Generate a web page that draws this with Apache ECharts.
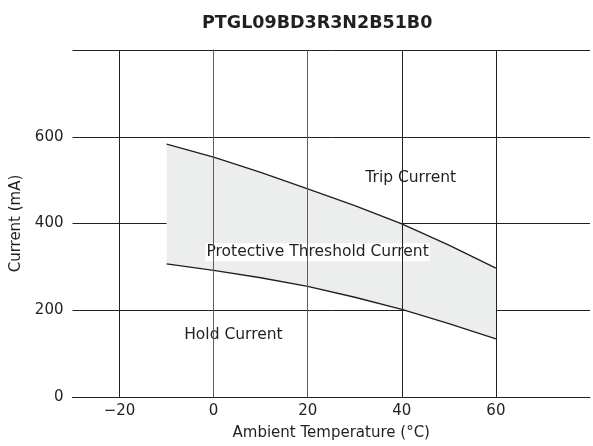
<!DOCTYPE html>
<html>
<head>
<meta charset="utf-8">
<script src="https://cdn.jsdelivr.net/npm/echarts@6/dist/echarts.min.js"></script>
<style>
  html, body { margin: 0; padding: 0; background: #fff; }
  #chart { width: 593px; height: 446px; }
</style>
</head>
<body>
<div id="chart"></div>
<script>
// Ambient temperature (°C) sample points
const temps = [-10, 0, 10, 20, 30, 40, 50, 60];
// Trip current (mA)
const tripCurrent = [583, 553, 518, 480, 441, 399, 350, 297];
// Hold current (mA)
const holdCurrent = [307, 292, 275, 255, 230, 202, 169, 134];
// Axis tick values
const xTicks = [-20, 0, 20, 40, 60];
const yTicks = [0, 200, 400, 600];
// In-chart annotations: [temperature, current, text]
const annotations = [
  [41.9, 504, 'Trip Current'],
  [22.1, 334, 'Protective Threshold Current'],
  [4.2, 143, 'Hold Current']
];

const lineColor = '#231f20';
const softGrid = '#5f5b5c';
const textColor = '#231f20';
const fontFamily = '"DejaVu Sans", sans-serif';

const holdPairs = temps.map((t, i) => [t, holdCurrent[i]]);
const tripPairs = temps.map((t, i) => [t, tripCurrent[i]]);

const chart = echarts.init(document.getElementById('chart'), null, { renderer: 'canvas' });

chart.setOption({
  animation: false,
  title: {
    text: 'PTGL09BD3R3N2B51B0',
    left: 197,
    top: 9,
    textStyle: { fontFamily, fontSize: 17.5, fontWeight: 'bold', color: textColor }
  },
  grid: { left: 72.5, right: 0, top: 50, bottom: 43.5 },
  xAxis: {
    type: 'value',
    min: -30,
    max: 80,
    interval: 10,
    name: 'Ambient Temperature (°C)',
    nameLocation: 'middle',
    nameGap: 29,
    nameTextStyle: { fontFamily, fontSize: 15, color: textColor },
    axisLine: { show: true, lineStyle: { color: lineColor, width: 1 } },
    axisTick: { show: false },
    axisLabel: {
      fontFamily, fontSize: 15, color: textColor, margin: 7,
      formatter: v => xTicks.includes(v) ? (v < 0 ? '\u2212' + Math.abs(v) : String(v)) : ''
    },
    splitLine: { show: false }
  },
  yAxis: {
    type: 'value',
    min: 0,
    max: 800,
    interval: 200,
    name: 'Current (mA)',
    nameLocation: 'middle',
    nameGap: 36,
    nameTextStyle: { fontFamily, fontSize: 15, color: textColor },
    axisLine: { show: true, lineStyle: { color: lineColor, width: 1 } },
    axisTick: { show: false },
    axisLabel: {
      fontFamily, fontSize: 15, color: textColor, margin: 9,
      formatter: v => yTicks.includes(v) ? String(v) : ''
    },
    splitLine: { show: true, lineStyle: { color: lineColor, width: 1 } }
  },
  series: [
    // Shaded region between the hold and trip curves
    {
      type: 'custom',
      silent: true,
      z: 1,
      data: [0],
      renderItem: (params, api) => {
        const top = tripPairs.map(p => api.coord(p));
        const bottom = holdPairs.slice().reverse().map(p => api.coord(p));
        return {
          type: 'polygon',
          shape: { points: top.concat(bottom) },
          style: { fill: '#eceeed', stroke: null }
        };
      }
    },
    // Vertical grid lines at the labelled temperatures
    {
      type: 'line',
      data: [],
      silent: true,
      z: 2,
      markLine: {
        silent: true,
        symbol: 'none',
        label: { show: false },
        lineStyle: { color: lineColor, width: 1, type: 'solid' },
        data: xTicks.map(x => ({
          xAxis: x,
          lineStyle: { color: (x === 0 || x === 20) ? softGrid : lineColor }
        }))
      }
    },
    // Trip current curve
    {
      type: 'line',
      data: tripPairs,
      symbol: 'none',
      lineStyle: { color: lineColor, width: 1.4 },
      z: 3
    },
    // Hold current curve
    {
      type: 'line',
      data: holdPairs,
      symbol: 'none',
      lineStyle: { color: lineColor, width: 1.4 },
      z: 3
    },
    // Text annotations
    {
      type: 'scatter',
      symbolSize: 1,
      silent: true,
      z: 4,
      itemStyle: { opacity: 0 },
      data: annotations.map(a => ({ value: [a[0], a[1]], name: a[2] })),
      label: {
        show: true,
        position: 'inside',
        align: 'center',
        verticalAlign: 'middle',
        opacity: 1,
        formatter: p => p.name,
        fontFamily, fontSize: 15.5, color: textColor,
        backgroundColor: '#ffffff',
        padding: [1, 1]
      }
    }
  ]
});
</script>
</body>
</html>
